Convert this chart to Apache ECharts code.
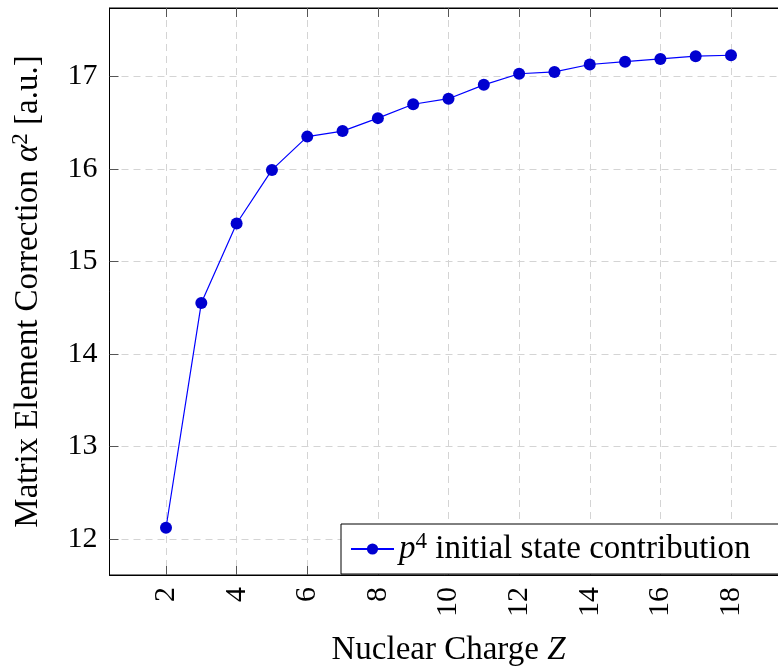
<!DOCTYPE html>
<html><head><meta charset="utf-8">
<script src="https://cdn.jsdelivr.net/npm/echarts@6/dist/echarts.min.js"></script>
<style>html,body{margin:0;padding:0;background:#fff}#c{width:778px;height:667px}</style>
</head><body><div id="c"></div>
<script>
const charges = [2,3,4,5,6,7,8,9,10,11,12,13,14,15,16,17,18];
const correction = [12.12,14.55,15.41,15.99,16.35,16.41,16.55,16.70,16.76,16.91,17.03,17.05,17.13,17.16,17.19,17.22,17.23];
const xTicks = [2,4,6,8,10,12,14,16,18];
const yTicks = [12,13,14,15,16,17];
const seriesName = 'p4 initial state contribution';

const FONT = 'Liberation Serif';
const FS = 30;
const FN = 33;
const gridLine = {show:true, lineStyle:{color:'#d4d4d4', width:1, type:[7,5]}};
const tick = {show:true, inside:true, length:9, lineStyle:{color:'#555', width:1}};

const chart = echarts.init(document.getElementById('c'), null, {renderer:'canvas'});
chart.setOption({
  animation:false,
  backgroundColor:'#fff',
  grid:{left:109.5, right:-9.5, top:8, bottom:92, containLabel:false, outerBoundsMode:'none',
        show:true, borderColor:'#000', borderWidth:1, backgroundColor:'transparent'},
  xAxis:[{
    type:'value', min:0.4, max:19.6, position:'bottom',
    axisLine:{show:true, lineStyle:{color:'#000', width:1}},
    axisTick:Object.assign({customValues:xTicks}, tick),
    axisLabel:{customValues:xTicks, rotate:90, margin:12, fontFamily:FONT, fontSize:FS, color:'#000'},
    splitLine:gridLine,
    name:'Nuclear Charge {i|Z}', nameLocation:'middle', nameGap:59,
    nameTextStyle:{fontFamily:FONT, fontSize:FN, color:'#000', rich:{i:{fontFamily:FONT, fontSize:FN, fontStyle:'italic', color:'#000'}}}
  },{
    type:'value', min:0.4, max:19.6, position:'top',
    axisLine:{show:true, lineStyle:{color:'#000', width:1}},
    axisTick:Object.assign({customValues:xTicks}, tick),
    axisLabel:{show:false}, splitLine:{show:false}
  }],
  yAxis:[{
    type:'value', min:11.609, max:17.741, position:'left',
    axisLine:{show:true, lineStyle:{color:'#000', width:1}},
    axisTick:Object.assign({customValues:yTicks}, tick),
    axisLabel:{customValues:yTicks, margin:12, fontFamily:FONT, fontSize:FS, color:'#000'},
    splitLine:gridLine,
    name:'Matrix Element Correction {a|α}{s|2} [a.u.]', nameLocation:'middle', nameGap:62, nameRotate:90,
    nameTextStyle:{fontFamily:FONT, fontSize:FN, color:'#000', lineHeight:38,
      rich:{a:{fontFamily:FONT, fontSize:FN, fontStyle:'italic', color:'#000', lineHeight:38},
            s:{fontFamily:FONT, fontSize:23, color:'#000', lineHeight:24, verticalAlign:'top'}}}
  },{
    type:'value', min:11.609, max:17.741, position:'right',
    axisLine:{show:true, lineStyle:{color:'#000', width:1}},
    axisTick:Object.assign({customValues:yTicks}, tick),
    axisLabel:{show:false}, splitLine:{show:false}
  }],
  legend:{
    left:341, top:524, orient:'horizontal',
    backgroundColor:'#fff', borderColor:'#000', borderWidth:1,
    padding:[6,30,6,9], itemWidth:43, itemHeight:14, itemGap:5,
    data:[seriesName],
    formatter:function(){ return '{i|p}{s|4} initial state contribution'; },
    textStyle:{fontFamily:FONT, fontSize:FN, color:'#000', lineHeight:38,
      rich:{i:{fontFamily:FONT, fontSize:FN, fontStyle:'italic', color:'#000', lineHeight:38},
            s:{fontFamily:FONT, fontSize:23, color:'#000', lineHeight:24, verticalAlign:'top'}}}
  },
  series:[{
    name:seriesName, type:'line', xAxisIndex:0, yAxisIndex:0,
    data:charges.map((z,i)=>[z, correction[i]]),
    symbol:'circle', symbolSize:12,
    lineStyle:{color:'#0000ff', width:1.2},
    itemStyle:{color:'#0000d0'},
    z:5
  }]
});
</script></body></html>
